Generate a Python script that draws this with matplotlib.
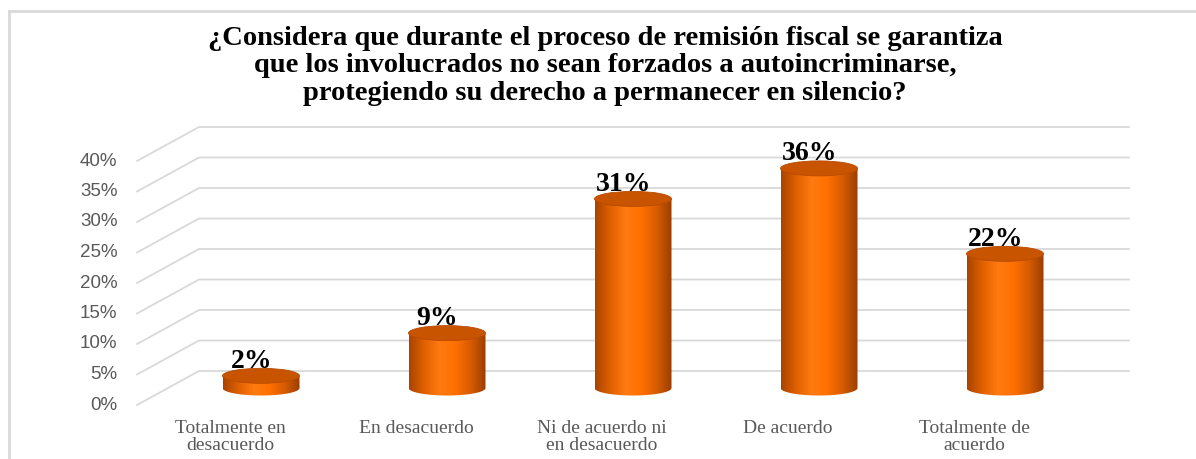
import matplotlib
matplotlib.use("Agg")
import matplotlib.pyplot as plt
from matplotlib.patches import Ellipse, Polygon
from matplotlib.colors import LinearSegmentedColormap
import numpy as np

categories = ["Totalmente en\ndesacuerdo", "En desacuerdo", "Ni de acuerdo ni\nen desacuerdo",
              "De acuerdo", "Totalmente de\nacuerdo"]
values = [2, 9, 31, 36, 22]
labels = ["2%", "9%", "31%", "36%", "22%"]
ticks = [0, 5, 10, 15, 20, 25, 30, 35, 40]
title = ("¿Considera que durante el proceso de remisión fiscal se garantiza\n"
         "que los involucrados no sean forzados a autoincriminarse,\n"
         "protegiendo su derecho a permanecer en silencio?")

W, H = 1196, 459
px_cat = 186.0   # pixels per category
px_pct = 6.1     # pixels per percent
x0_px = 230.0    # front position of first category
y0_px = 405.0    # front position of 0%

dx = 62 / px_cat   # depth offset in category units
dy = 34 / px_pct   # depth offset in percent units
bw = 77 / px_cat   # cylinder width
eh = 15 / px_pct   # ellipse height

fig = plt.figure(figsize=(W / 100, H / 100), dpi=100)
ax = fig.add_axes([0, 0, 1, 1])
ax.set_xlim(-x0_px / px_cat, (W - x0_px) / px_cat)
ax.set_ylim(-(H - y0_px) / px_pct, y0_px / px_pct)
ax.axis("off")

# frame
fig.add_artist(plt.Line2D([9 / W, 9 / W], [0, 1 - 11 / H], color="#d9d9d9", lw=2))
fig.add_artist(plt.Line2D([9 / W, 1], [1 - 11 / H, 1 - 11 / H], color="#d9d9d9", lw=2))

# gridlines with perspective
n = len(categories)
for t in ticks:
    ax.plot([-0.5, -0.5 + dx, n - 0.5 + dx], [t, t + dy, t + dy], color="#d9d9d9", lw=1.3, zorder=1)
    ax.annotate(f"{t}%", (-0.5, t), xytext=(-14, 0), textcoords="offset points",
                ha="right", va="center", fontsize=13.5, color="#595959", family="Liberation Sans")

cmap = LinearSegmentedColormap.from_list("cyl", ["#a84400", "#e06000", "#ff7a10", "#ff7000", "#d85c00", "#9a3e00"])
grad = np.linspace(0, 1, 256).reshape(1, -1)

for i, (v, lab) in enumerate(zip(values, labels)):
    cx = i + dx / 2
    base = dy / 2
    top = v + dy / 2
    # body outline: rectangle plus lower half ellipse
    th = np.linspace(np.pi, 2 * np.pi, 60)
    bottom = np.column_stack([cx + bw / 2 * np.cos(th), base + eh / 2 * np.sin(th)])
    pts = np.vstack([[cx - bw / 2, top], bottom, [cx + bw / 2, top]])
    body = Polygon(pts, closed=True, facecolor="none", edgecolor="none", zorder=3)
    ax.add_patch(body)
    im = ax.imshow(grad, cmap=cmap, aspect="auto", zorder=3,
                   extent=[cx - bw / 2, cx + bw / 2, base - eh / 2, top])
    im.set_clip_path(body)
    ax.add_patch(Ellipse((cx, top), bw, eh, facecolor="#c85400", edgecolor="#b84a00", lw=0.6, zorder=4))
    ax.annotate(lab, (cx, top + eh / 2), xytext=(-7, -4), textcoords="offset points",
                ha="center", va="bottom", fontsize=20, fontweight="bold", color="black",
                family="Liberation Serif", zorder=5)

for i, c in enumerate(categories):
    ax.annotate(c, (i, 0), xytext=(0, -11), textcoords="offset points", ha="center", va="top",
                fontsize=14, color="#595959", family="Liberation Serif", linespacing=0.95)

fig.text(605 / W, 1 - 66 / H, title, ha="center", va="center", fontsize=20.5, fontweight="bold",
         family="Liberation Serif", linespacing=1.12)

fig.savefig("out.png", dpi=100)
